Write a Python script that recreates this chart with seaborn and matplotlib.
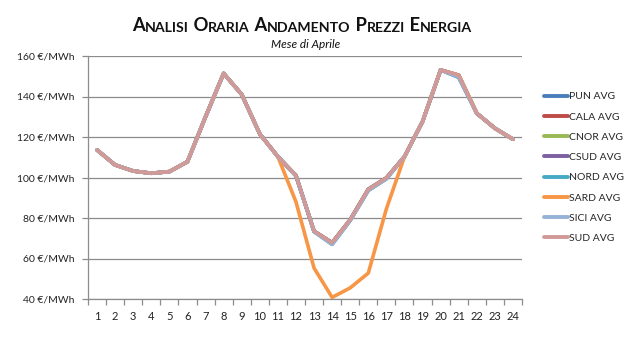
import numpy as np
import pandas as pd
import matplotlib
matplotlib.use("Agg")
import matplotlib.pyplot as plt
import seaborn as sns

hours = list(range(1, 25))
series_names = ["PUN AVG", "CALA AVG", "CNOR AVG", "CSUD AVG", "NORD AVG", "SARD AVG", "SICI AVG", "SUD AVG"]
colors = ["#4A7EBB", "#BE4B48", "#98B954", "#7D60A0", "#46AAC5", "#F79646", "#95B3D7", "#D19A98"]

pun  = [113.6, 106.2, 103.2, 102.1, 102.9, 107.8, 130.0, 151.4, 141.0, 121.5, 110.3, 100.8, 73.3, 67.0, 78.8, 93.6, 99.4, 110.3, 127.6, 153.1, 149.6, 131.7, 124.3, 118.9]
cala = [113.6, 106.2, 103.2, 102.1, 102.9, 107.8, 130.0, 151.4, 141.0, 121.5, 110.3, 101.0, 73.5, 67.8, 79.2, 94.2, 99.8, 110.3, 127.6, 153.1, 150.5, 131.7, 124.3, 118.9]
cnor = [113.6, 106.2, 103.2, 102.1, 102.9, 107.8, 130.0, 151.4, 141.0, 121.5, 110.3, 101.0, 73.5, 67.8, 79.2, 94.2, 99.8, 110.3, 127.6, 153.1, 150.5, 131.7, 124.3, 118.9]
csud = [113.6, 106.2, 103.2, 102.1, 102.9, 107.8, 130.0, 151.4, 141.0, 121.5, 110.3, 101.0, 73.5, 67.8, 79.2, 94.2, 99.8, 110.3, 127.6, 153.1, 150.5, 131.7, 124.3, 118.9]
nord = [113.6, 106.2, 103.2, 102.1, 102.9, 107.8, 130.0, 151.4, 141.0, 121.5, 110.3, 100.8, 73.3, 67.2, 78.9, 93.7, 99.4, 110.3, 127.6, 153.1, 149.4, 131.7, 124.3, 118.9]
sard = [113.6, 106.2, 103.2, 102.1, 102.9, 107.8, 130.0, 151.4, 141.0, 121.5, 110.3, 88.0, 55.3, 40.8, 45.5, 52.8, 84.5, 110.3, 127.6, 153.1, 150.5, 131.7, 124.3, 118.9]
sici = [113.6, 106.2, 103.2, 102.1, 102.9, 107.8, 130.0, 151.4, 141.0, 121.5, 110.3, 100.8, 73.3, 67.0, 78.8, 93.6, 99.4, 110.3, 127.6, 153.1, 149.6, 131.7, 124.3, 118.9]
sud  = [113.6, 106.2, 103.2, 102.1, 102.9, 107.8, 130.0, 151.4, 141.0, 121.5, 110.3, 101.0, 73.5, 67.8, 79.2, 94.2, 99.8, 110.3, 127.6, 153.1, 150.5, 131.7, 124.3, 118.9]

y_ticks = [40, 60, 80, 100, 120, 140, 160]
y_labels = [f"{v} €/MWh" for v in y_ticks]

values = [pun, cala, cnor, csud, nord, sard, sici, sud]
df = pd.concat([pd.DataFrame({"hour": hours, "value": v, "series": n}) for n, v in zip(series_names, values)],
               ignore_index=True)

sns.set_theme(style="white")
plt.rcParams["font.family"] = ["Lato", "DejaVu Sans"]

fig = plt.figure(figsize=(6.28, 3.40), dpi=100)
ax = fig.add_axes([88/628, 41/340, 434/628, 243/340])

sns.lineplot(data=df, x="hour", y="value", hue="series", hue_order=series_names,
             palette=colors, linewidth=2.6, ax=ax, legend=True, sort=False)

ax.set_xlim(0.5, 24.5)
ax.set_ylim(40, 160)
ax.set_yticks(y_ticks)
ax.set_yticklabels(y_labels, fontsize=7.5, color="#222222")
ax.yaxis.grid(True, color="#8C8C8C", linewidth=0.9)
ax.set_axisbelow(True)

ax.set_xticks(np.arange(0.5, 25.0, 1.0))
ax.set_xticklabels([])
ax.set_xticks(hours, minor=True)
ax.set_xticklabels([str(h) for h in hours], minor=True, fontsize=8, color="#222222")
ax.tick_params(axis="x", which="major", direction="out", length=4, color="#8C8C8C", width=0.9, bottom=True)
ax.tick_params(axis="x", which="minor", length=0, pad=9, bottom=True)
ax.tick_params(axis="y", direction="out", length=4, color="#8C8C8C", width=0.9, left=True, pad=6)

for s in ["top", "right"]:
    ax.spines[s].set_visible(False)
for s in ["left", "bottom"]:
    ax.spines[s].set_color("#8C8C8C")
    ax.spines[s].set_linewidth(0.9)

ax.set_xlabel("")
ax.set_ylabel("")

leg = ax.legend(loc="upper left", bbox_to_anchor=(540/628, 1 - 88/340), bbox_transform=fig.transFigure,
                frameon=False, fontsize=7.5, handlelength=2.3, handletextpad=0.1,
                labelspacing=1.05, borderaxespad=0)
for line in leg.get_lines():
    line.set_linewidth(2.8)

# Title in small caps simulated
words = ["Analisi", "Oraria", "Andamento", "Prezzi", "Energia"]
big, small = 13.2, 10.2
pieces = []
for i, w in enumerate(words):
    pre = " " if i > 0 else ""
    pieces.append((pre + w[0].upper(), big))
    pieces.append((w[1:].upper(), small))

tmp = []
renderer = fig.canvas.get_renderer()
total_w = 0
for txt, sz in pieces:
    t = fig.text(0, 0, txt, fontsize=sz, fontweight="bold", color="#111111")
    bb = t.get_window_extent(renderer=renderer)
    total_w += bb.width
    tmp.append(t)
for t in tmp:
    t.remove()

x0 = (302 - total_w / 2) / 628
prev = None
for txt, sz in pieces:
    if prev is None:
        prev = fig.text(x0, 1 - 31/340, txt, fontsize=sz, fontweight="bold", color="#111111",
                        ha="left", va="baseline")
    else:
        prev = ax.annotate(txt, xy=(1, 0), xycoords=prev, xytext=(0, 0), textcoords="offset points",
                           fontsize=sz, fontweight="bold", color="#111111", ha="left", va="bottom",
                           annotation_clip=False)

fig.text(306/628, 1 - 44/340, "Mese di Aprile", fontsize=8.5, style="italic", ha="center", va="center",
         color="#111111")

fig.savefig("out.png", dpi=100, facecolor="white")
